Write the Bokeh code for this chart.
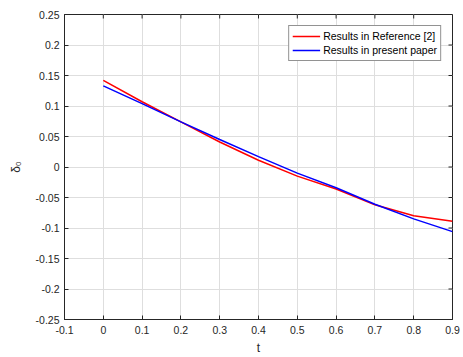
from math import pi
from bokeh.plotting import figure
from bokeh.models import FixedTicker, Range1d, Legend, LegendItem
from bokeh.embed import file_html
from bokeh.resources import INLINE

t = [0.0, 0.1, 0.2, 0.3, 0.4, 0.5, 0.6, 0.7, 0.8, 0.9]
ref_results = [0.142, 0.107, 0.074, 0.041, 0.011, -0.015, -0.036, -0.062, -0.080, -0.089]
present_results = [0.133, 0.104, 0.074, 0.045, 0.017, -0.010, -0.034, -0.061, -0.085, -0.106]

x_ticks = [-0.1, 0.0, 0.1, 0.2, 0.3, 0.4, 0.5, 0.6, 0.7, 0.8, 0.9]
x_tick_labels = ["-0.1", "0", "0.1", "0.2", "0.3", "0.4", "0.5", "0.6", "0.7", "0.8", "0.9"]
y_ticks = [-0.25, -0.2, -0.15, -0.1, -0.05, 0.0, 0.05, 0.1, 0.15, 0.2, 0.25]
y_tick_labels = ["-0.25", "-0.2", "-0.15", "-0.1", "-0.05", "0", "0.05", "0.1", "0.15", "0.2", "0.25"]

X_MIN, X_MAX = -0.1, 0.9
Y_MIN, Y_MAX = -0.25, 0.25

FONT = "Liberation Sans"
AX = "#262626"

p = figure(width=463, height=357, output_backend="svg", toolbar_location=None,
           x_range=Range1d(X_MIN, X_MAX), y_range=Range1d(Y_MIN, Y_MAX),
           min_border_left=64, min_border_right=11, min_border_top=14, min_border_bottom=38)
p.outline_line_color = AX
p.outline_line_width = 1
p.background_fill_color = "white"

def style_axis(ax):
    ax.axis_line_color = AX
    ax.axis_line_width = 1
    ax.major_tick_line_color = AX
    ax.major_tick_in = 4
    ax.major_tick_out = 0
    ax.minor_tick_line_color = None
    ax.major_label_text_font = FONT
    ax.major_label_text_font_size = "10.5px"
    ax.major_label_text_color = AX
    ax.axis_label_text_font = FONT
    ax.axis_label_text_font_style = "normal"
    ax.axis_label_text_font_size = "12px"
    ax.axis_label_text_color = AX

xa = p.xaxis[0]
xa.ticker = FixedTicker(ticks=x_ticks)
xa.major_label_overrides = {v: s for v, s in zip(x_ticks, x_tick_labels)}
xa.axis_label = "t"
style_axis(xa)
xa.axis_label_standoff = 4
xa.major_label_standoff = 6

ya = p.yaxis[0]
ya.ticker = FixedTicker(ticks=y_ticks)
ya.major_label_overrides = {v: s for v, s in zip(y_ticks, y_tick_labels)}
ya.axis_label = "δ₀"
style_axis(ya)
ya.axis_label_standoff = 10
ya.major_label_standoff = 5

# inward ticks on the top and right edges of the box
p.ray(x=x_ticks, y=[Y_MAX] * len(x_ticks), length=4, length_units="screen",
      angle=-pi / 2, line_color=AX, line_width=1)
p.ray(x=[X_MAX] * len(y_ticks), y=y_ticks, length=4, length_units="screen",
      angle=pi, line_color=AX, line_width=1)

p.xgrid.ticker = FixedTicker(ticks=x_ticks)
p.ygrid.ticker = FixedTicker(ticks=y_ticks)
for g in (p.xgrid[0], p.ygrid[0]):
    g.grid_line_color = "#dedede"
    g.grid_line_width = 1

r1 = p.line(t, ref_results, line_color="#ff0000", line_width=1.5)
r2 = p.line(t, present_results, line_color="#0000ff", line_width=1.5)

legend = Legend(items=[LegendItem(label="Results in Reference [2]", renderers=[r1]),
                       LegendItem(label="Results in present paper", renderers=[r2])],
                location="top_right")
legend.margin = 11
legend.padding = 3
legend.spacing = 0
legend.glyph_width = 28
legend.glyph_height = 14
legend.label_height = 14
legend.label_standoff = 3
legend.label_text_font = FONT
legend.label_text_font_size = "10.5px"
legend.label_text_color = "#000000"
legend.border_line_color = AX
legend.border_line_width = 1
legend.background_fill_color = "white"
legend.background_fill_alpha = 1
p.add_layout(legend, "center")

open("out.html", "w").write(file_html(p, INLINE))
